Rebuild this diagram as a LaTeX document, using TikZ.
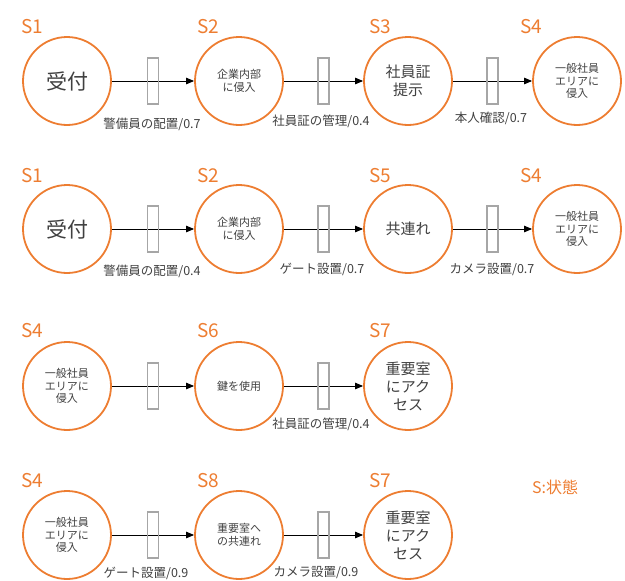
\documentclass[tikz,border=0pt]{standalone}
\usepackage{fontspec}
\newfontfamily\jp{Noto Sans CJK JP}
\usetikzlibrary{arrows.meta}
\definecolor{stor}{HTML}{ED7D31}
\definecolor{txt}{HTML}{404040}
\definecolor{gategray}{HTML}{A6A6A6}
\tikzset{
 st/.style={circle, draw=stor, line width=1.8pt, minimum size=88pt, inner sep=0pt, align=center, text=txt, font=\jp\fontsize{11}{12.5}\selectfont},
 big/.style={font=\jp\fontsize{21}{24}\selectfont},
 mid/.style={font=\jp\fontsize{15}{18}\selectfont},
 slab/.style={anchor=base west, text=stor, font=\jp\fontsize{19}{21}\selectfont, inner sep=0pt},
 elab/.style={text=txt, font=\jp\fontsize{12.5}{14}\selectfont, inner sep=0pt},
 gate/.style={draw=gategray, line width=1.3pt, minimum width=11pt, minimum height=46pt, inner sep=0pt},
 arr/.style={-{Triangle[length=8pt,width=6.5pt]}, line width=0.9pt, draw=black}
}
\begin{document}
\begin{tikzpicture}[x=1pt,y=-1pt]
\useasboundingbox (0,0) rectangle (625,581);
% row 1
\node[st,big] (a1) at (67,81) {受付};
\node[st] (a2) at (239,81) {企業内部\\に侵入};
\node[st,mid] (a3) at (408,81) {社員証\\提示};
\node[st] (a4) at (577,81) {一般社員\\エリアに\\侵入};
\node[slab] (la1) at (21,33) {S1};
\node[slab] (la2) at (197,33) {S2};
\node[slab] (la3) at (369,33) {S3};
\node[slab] (la4) at (520,33) {S4};
\draw[arr] (a1) -- node[gate] (ga1) {} (a2);
\draw[arr] (a2) -- node[gate] (ga2) {} (a3);
\draw[arr] (a3) -- node[gate] (ga3) {} (a4);
\node[elab] (ea1) at (152,124) {警備員の配置/0.7};
\node[elab] (ea2) at (321,121) {社員証の管理/0.4};
\node[elab] (ea3) at (491,118) {本人確認/0.7};
% row 2
\node[st,big] (b1) at (67,229) {受付};
\node[st] (b2) at (239,229) {企業内部\\に侵入};
\node[st,mid] (b3) at (408,229) {共連れ};
\node[st] (b4) at (577,229) {一般社員\\エリアに\\侵入};
\node[slab] (lb1) at (21,182) {S1};
\node[slab] (lb2) at (197,182) {S2};
\node[slab] (lb3) at (369,182) {S5};
\node[slab] (lb4) at (520,182) {S4};
\draw[arr] (b1) -- node[gate] (gb1) {} (b2);
\draw[arr] (b2) -- node[gate] (gb2) {} (b3);
\draw[arr] (b3) -- node[gate] (gb3) {} (b4);
\node[elab] (eb1) at (152,271) {警備員の配置/0.4};
\node[elab] (eb2) at (322,269) {ゲート設置/0.7};
\node[elab] (eb3) at (492,270) {カメラ設置/0.7};
% row 3
\node[st] (c1) at (67,386) {一般社員\\エリアに\\侵入};
\node[st] (c2) at (239,386) {鍵を使用};
\node[st,mid] (c3) at (408,386) {重要室\\にアク\\セス};
\node[slab] (lc1) at (21,337) {S4};
\node[slab] (lc2) at (197,337) {S6};
\node[slab] (lc3) at (369,337) {S7};
\draw[arr] (c1) -- node[gate] (gc1) {} (c2);
\draw[arr] (c2) -- node[gate] (gc2) {} (c3);
\node[elab] (ec2) at (321,424) {社員証の管理/0.4};
% row 4
\node[st] (d1) at (67,535) {一般社員\\エリアに\\侵入};
\node[st] (d2) at (239,535) {重要室へ\\の共連れ};
\node[st,mid] (d3) at (408,535) {重要室\\にアク\\セス};
\node[slab] (ld1) at (21,487) {S4};
\node[slab] (ld2) at (197,487) {S8};
\node[slab] (ld3) at (369,487) {S7};
\draw[arr] (d1) -- node[gate] (gd1) {} (d2);
\draw[arr] (d2) -- node[gate] (gd2) {} (d3);
\node[elab] (ed1) at (146,573) {ゲート設置/0.9};
\node[elab] (ed2) at (316,573) {カメラ設置/0.9};
% legend
\node[slab, font=\jp\fontsize{16}{18}\selectfont] (legend) at (532,493) {S:状態};
\end{tikzpicture}
\end{document}
